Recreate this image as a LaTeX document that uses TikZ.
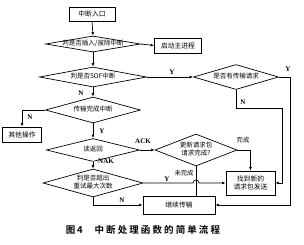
\documentclass[tikz,border=0pt]{standalone}
\usepackage{fontspec}
\setmainfont{Noto Sans CJK SC}
\newfontfamily\latinfont{Liberation Serif}
\newfontfamily\capfont[LetterSpace=22]{Noto Sans CJK SC Bold}
\usetikzlibrary{shapes.geometric,arrows.meta}
\newcommand{\dtxt}[1]{\makebox[0pt]{\begin{tabular}{@{}c@{}}#1\end{tabular}}}
\tikzset{
  every path/.style={line width=0.7pt},
  arr/.style={-{Latex[length=3.5pt,width=2.8pt]}},
  box/.style={draw, rectangle, inner sep=0pt, align=center, line width=0.8pt,
    font=\fontsize{6.8}{8.3}\selectfont},
  dec/.style={draw, diamond, inner sep=0pt, line width=0.7pt,
    font=\fontsize{6.5}{8.3}\selectfont},
  lab/.style={font=\latinfont\bfseries\fontsize{7}{8}\selectfont, inner sep=0pt},
  clab/.style={font=\fontsize{6.3}{8}\selectfont, inner sep=0pt}
}
\begin{document}
\begin{tikzpicture}[x=1pt,y={(0pt,-1pt)}]
\useasboundingbox (0,0) rectangle (304,244);
% nodes
\node[box, minimum width=46, minimum height=14] (start) at (92,14) {中断入口};
\node[dec, minimum width=95, minimum height=16, aspect=5.9] (d1) at (93,44) {\dtxt{判是否插入/拔除中断}};
\node[box, minimum width=47, minimum height=15] (main) at (178,45.5) {启动主进程};
\node[dec, minimum width=107, minimum height=20, aspect=5.3] (d2) at (93,77) {\dtxt{判是否SOF中断}};
\node[dec, minimum width=85, minimum height=25, aspect=3.4] (d4) at (236,77) {\dtxt{是否有传输请求}};
\node[dec, minimum width=95, minimum height=26, aspect=3.6] (d3) at (93,110) {\dtxt{传输完成中断}};
\node[box, minimum width=39, minimum height=15] (other) at (22,134.5) {其他操作};
\node[dec, minimum width=93, minimum height=23, aspect=4] (d5) at (93,150) {\dtxt{读返回}};
\node[dec, minimum width=82, minimum height=32, aspect=2.6] (d6) at (196,150) {\dtxt{更新请求包\\请求完成?}};
\node[dec, minimum width=100, minimum height=28, aspect=3.5] (d7) at (93,183) {\dtxt{判是否超出\\重试最大次数}};
\node[box, minimum width=49, minimum height=24] (newreq) at (250.5,183) {找到新的\\请求包发送};
\node[box, minimum width=72, minimum height=18] (cont) at (179,205) {继续传输};
% helper coordinates
\coordinate (r1) at (290,77);
\coordinate (n1) at (236,108);
\coordinate (n2) at (282,108);
\coordinate (h1) at (193,183);
% connectors
\draw[arr] (start.south) -- (d1.north);
\draw[arr] (d1.east) -- (main.west);
\draw[arr] (d1.south) -- (d2.north);
\draw[arr] (d2.east) -- (d4.west);
\draw[arr] (d2.south) -- (d3.north);
\draw[arr] (d3.west) -| (other.north);
\draw[arr] (d3.south) -- (d5.north);
\draw[arr] (d5.east) -- (d6.west);
\draw[arr] (d5.south) -- (d7.north);
\draw[arr] (d7.south) |- (cont.west);
\draw[arr] (d7.east) -- (h1) arc[start angle=180, end angle=360, radius=3] -- (newreq.west);
\draw (d6.south) -- (d6.south |- cont.north);
\draw[arr] (d6.east) -| (newreq.north);
\draw[arr] (d4.east) -- (r1) |- (cont.east);
\draw[arr] (d4.south) -- (n1) -- (n2) |- (newreq.east);
% labels
\node[lab] (lY1) at (172,72) {Y};
\node[lab] (lY2) at (288,69) {Y};
\node[lab] (lN4) at (243,102) {N};
\node[lab] (lN1) at (81,93) {N};
\node[lab] (lN2) at (30,117) {N};
\node[lab] (lY3) at (102,131) {Y};
\node[lab] (lACK) at (143,141) {ACK};
\node[lab] (lNAK) at (106,161.5) {NAK};
\node[lab] (lY4) at (167,179) {Y};
\node[lab] (lN3) at (122,200) {N};
\node[clab] (lwc) at (184,173) {未完成};
\node[clab] (lc) at (243,140) {完成};
% caption
\node[inner sep=0pt, font=\capfont\fontsize{9.5}{11}\selectfont] (cap) at (143,230) {图\,4\hspace{12pt}中断处理函数的简单流程};
\end{tikzpicture}
\end{document}
